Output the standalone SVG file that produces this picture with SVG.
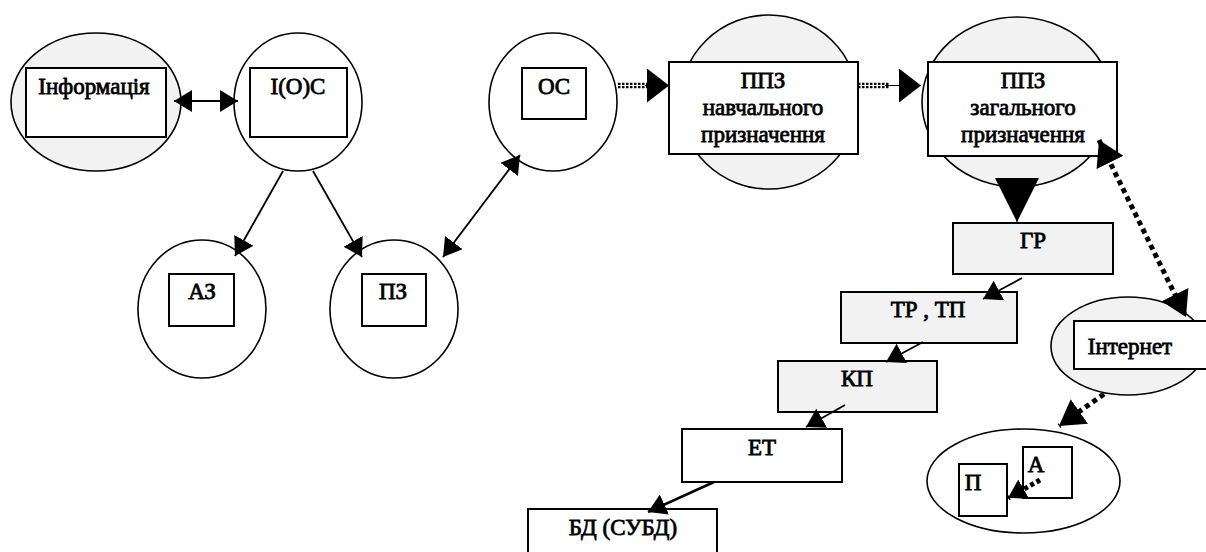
<svg xmlns="http://www.w3.org/2000/svg" width="1206" height="552" viewBox="0 0 1206 552">
<style>
.ell{stroke:#000;stroke-width:1.6}
.g{fill:#f2f2f2}
.w{fill:#fff}
.box{stroke:#000;stroke-width:2}
.t{font-family:'Liberation Serif','Times New Roman',serif;font-weight:normal;font-size:23px;fill:#000;stroke:#000;stroke-width:0.8;text-anchor:middle}
.ln{fill:none;stroke:#000;stroke-width:1.8}
.ln2{fill:none;stroke:#000;stroke-width:2.6}
.dbl{fill:none;stroke:#000;stroke-width:2.2;stroke-dasharray:2.5 1.5}
.dot{fill:none;stroke:#000;stroke-width:5;stroke-dasharray:5 4}
</style>
<defs>
<marker id="aS" markerUnits="userSpaceOnUse" markerWidth="18" markerHeight="22" refX="18" refY="11" orient="auto-start-reverse"><path d="M0,0 L18,11 L0,22 z" fill="#000"/></marker>
<marker id="aL" markerUnits="userSpaceOnUse" markerWidth="22" markerHeight="34" refX="22" refY="17" orient="auto"><path d="M0,0 L22,17 L0,34 z" fill="#000"/></marker>
<marker id="aD" markerUnits="userSpaceOnUse" markerWidth="25" markerHeight="30" refX="25" refY="15" orient="auto-start-reverse"><path d="M0,0 L25,15 L0,30 z" fill="#000"/></marker>
<marker id="aX" markerUnits="userSpaceOnUse" markerWidth="44" markerHeight="44" refX="44" refY="22" orient="auto"><path d="M0,0 L44,22 L0,44 z" fill="#000"/></marker>
</defs>

<g id="informatsiia">
<ellipse class="ell g" cx="96" cy="102" rx="85" ry="69"/>
<rect class="box w" x="26" y="68" width="140" height="69"/>
<text class="t" x="94" y="94">Інформація</text>
</g>
<g id="ioc">
<ellipse class="ell w" cx="298" cy="102" rx="64" ry="69"/>
<rect class="box w" x="250" y="68" width="97" height="69"/>
<text class="t" x="298" y="94">I(O)C</text>
</g>
<g id="os">
<ellipse class="ell w" cx="553" cy="102" rx="64" ry="69"/>
<rect class="box w" x="522" y="68" width="64" height="51"/>
<text class="t" x="554" y="94">ОС</text>
</g>
<g id="az">
<ellipse class="ell w" cx="202" cy="309" rx="64" ry="69"/>
<rect class="box w" x="169" y="274" width="65" height="52"/>
<text class="t" x="202" y="299">АЗ</text>
</g>
<g id="pz">
<ellipse class="ell w" cx="394" cy="309" rx="64" ry="69"/>
<rect class="box w" x="362" y="274" width="64" height="52"/>
<text class="t" x="393" y="299">ПЗ</text>
</g>
<g id="ppz-navch">
<ellipse class="ell g" cx="769" cy="102" rx="89" ry="87"/>
<rect class="box w" x="669" y="62" width="189" height="92"/>
<text class="t" x="763" y="88">ППЗ</text>
<text class="t" x="763" y="115">навчального</text>
<text class="t" x="763" y="142">призначення</text>
</g>
<g id="ppz-zag">
<ellipse class="ell g" cx="1017" cy="102" rx="95" ry="85"/>
<rect class="box w" x="928" y="62" width="189" height="94"/>
<text class="t" x="1023" y="88">ППЗ</text>
<text class="t" x="1023" y="115">загального</text>
<text class="t" x="1023" y="142">призначення</text>
</g>
<g id="gr">
<rect class="box g" x="953" y="223" width="160" height="51"/>
<text class="t" x="1033" y="248">ГР</text>
</g>
<g id="tr-tp">
<rect class="box g" x="841" y="292" width="176" height="51"/>
<text class="t" x="928" y="317">ТР , ТП</text>
</g>
<g id="kp">
<rect class="box g" x="778" y="361" width="159" height="51"/>
<text class="t" x="857" y="386">КП</text>
</g>
<g id="et">
<rect class="box w" x="682" y="429" width="160" height="53"/>
<text class="t" x="762" y="455">ЕТ</text>
</g>
<g id="bd">
<rect class="box w" x="528" y="509" width="189" height="60"/>
<text class="t" x="623" y="535">БД (СУБД)</text>
</g>
<g id="internet">
<ellipse class="ell g" cx="1128" cy="346" rx="77" ry="49"/>
<rect class="box w" x="1074" y="321" width="140" height="48"/>
<text class="t" x="1130" y="354">Інтернет</text>
</g>
<g id="pa">
<ellipse class="ell w" cx="1023.5" cy="481" rx="96.5" ry="52"/>
<rect class="box w" x="959" y="464" width="48" height="52"/>
<text class="t" x="973" y="490">П</text>
<rect class="box w" x="1023" y="447" width="49" height="51"/>
<text class="t" x="1036" y="472">А</text>
</g>

<g id="connectors">
<line class="ln" x1="174" y1="101" x2="238" y2="101" marker-start="url(#aS)" marker-end="url(#aS)" style="stroke-width:2"/>
<line class="ln" x1="283" y1="171" x2="235" y2="256" marker-end="url(#aS)"/>
<line class="ln" x1="313" y1="171" x2="362" y2="257" marker-end="url(#aS)"/>
<line class="ln" x1="443" y1="257" x2="520" y2="155" marker-start="url(#aS)" marker-end="url(#aS)"/>
<path class="dbl" d="M618,83.8 H650 M618,87.2 H650"/>
<line x1="645" y1="85.5" x2="669" y2="85.5" stroke="#000" stroke-width="1" marker-end="url(#aL)"/>
<path class="dbl" d="M858,83.8 H890 M858,87.2 H890"/>
<line x1="885" y1="85.5" x2="921" y2="85.5" stroke="#000" stroke-width="1" marker-end="url(#aL)"/>
<line x1="1017" y1="180" x2="1017" y2="222" stroke="#000" stroke-width="1" marker-end="url(#aX)"/>
<line class="dot" x1="1099" y1="140" x2="1186" y2="317" marker-start="url(#aD)" marker-end="url(#aD)"/>
<line class="dot" x1="1104" y1="394" x2="1059" y2="426" marker-end="url(#aD)"/>
<line class="ln" x1="1022" y1="278" x2="983" y2="299" marker-end="url(#aS)"/>
<line class="ln" x1="923" y1="342" x2="886" y2="362" marker-end="url(#aS)"/>
<line class="ln" x1="845" y1="405" x2="806" y2="427" marker-end="url(#aS)"/>
<line class="ln2" x1="714" y1="482" x2="648" y2="512" marker-end="url(#aS)"/>
<line class="dot" x1="1040" y1="480" x2="1008" y2="498" marker-end="url(#aS)" style="stroke-dasharray:4 3"/>
</g>
</svg>
